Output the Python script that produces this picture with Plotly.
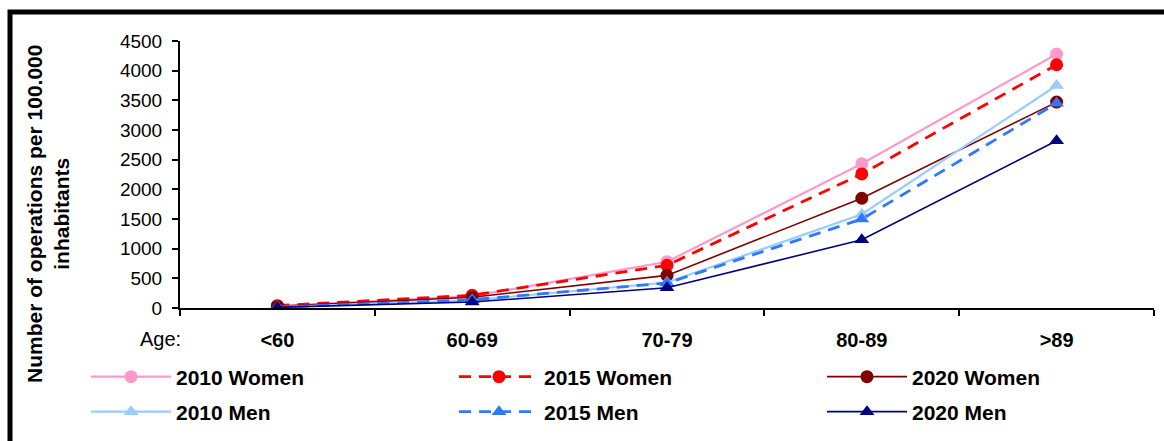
import plotly.graph_objects as go

ages = ["<60", "60-69", "70-79", "80-89", ">89"]
women_2010 = [30, 200, 780, 2430, 4280]
women_2015 = [40, 215, 720, 2260, 4100]
women_2020 = [30, 180, 550, 1850, 3470]
men_2010 = [15, 130, 430, 1580, 3750]
men_2015 = [15, 140, 420, 1500, 3450]
men_2020 = [10, 100, 340, 1150, 2820]

series = [
    ("2010 Women", women_2010, "#FF99CC", "solid", 2.2, "circle"),
    ("2015 Women", women_2015, "#FF0000", "12px,8px", 2.8, "circle"),
    ("2020 Women", women_2020, "#800000", "solid", 1.6, "circle"),
    ("2010 Men", men_2010, "#99CCFF", "solid", 2.2, "triangle-up"),
    ("2015 Men", men_2015, "#2F78FF", "12px,8px", 2.8, "triangle-up"),
    ("2020 Men", men_2020, "#000080", "solid", 1.6, "triangle-up"),
]

W, H = 1164, 441


def px(x):
    return x / W


def py(y):
    return 1 - y / H


FONT = "Liberation Sans, Arial, sans-serif"
legend_cols = [86, 454, 822]
legend_rows = [377, 412]

fig = go.Figure()
legends = {}
for i, (name, vals, col, dash, w, sym) in enumerate(series):
    lg = "legend" if i == 0 else f"legend{i + 1}"
    fig.add_trace(go.Scatter(
        x=ages, y=vals, name=name, mode="lines+markers", legend=lg,
        line=dict(color=col, dash=dash, width=w),
        marker=dict(symbol=sym, size=13, color=col),
    ))
    legends[lg] = dict(
        x=px(legend_cols[i % 3]), y=py(legend_rows[i // 3]),
        orientation="h", xanchor="left", yanchor="middle", itemwidth=80,
        font=dict(size=21, family=FONT, weight="bold"),
        bgcolor="rgba(0,0,0,0)", borderwidth=0,
    )

fig.update_layout(
    width=W, height=H,
    margin=dict(l=0, r=0, t=0, b=0),
    paper_bgcolor="white", plot_bgcolor="white",
    font=dict(family=FONT, color="black", size=19),
    showlegend=True,
    **legends,
    xaxis=dict(
        domain=[px(180), px(1154)],
        type="category", range=[-0.5, 4.5], tickson="boundaries",
        showline=True, linecolor="black", linewidth=2,
        ticks="outside", ticklen=6, tickwidth=2, tickcolor="black",
        showgrid=False, zeroline=False, automargin=False,
        tickfont=dict(size=20, weight="bold"), ticklabelstandoff=13,
    ),
    yaxis=dict(
        domain=[py(308), py(41)],
        range=[0, 4500], tickmode="linear", tick0=0, dtick=500,
        showline=True, linecolor="black", linewidth=2,
        ticks="outside", ticklen=6, tickwidth=2, tickcolor="black",
        showgrid=False, zeroline=False, automargin=False,
        tickfont=dict(size=19), ticklabelstandoff=6,
    ),
    shapes=[dict(type="rect", xref="paper", yref="paper",
                 x0=px(10), y0=py(H + 50), x1=px(W + 50), y1=py(12),
                 line=dict(color="black", width=5), fillcolor="rgba(0,0,0,0)",
                 layer="above")],
    annotations=[
        dict(text="Number of operations per 100.000<br>inhabitants", textangle=-90,
             x=px(48), y=py(214), xref="paper", yref="paper", showarrow=False,
             xanchor="center", yanchor="middle",
             font=dict(size=21, weight="bold"), align="center"),
        dict(text="Age:", x=px(160), y=py(339), xref="paper", yref="paper",
             xanchor="center", yanchor="middle",
             showarrow=False, font=dict(size=20)),
    ],
)

fig.write_html("out.html")
